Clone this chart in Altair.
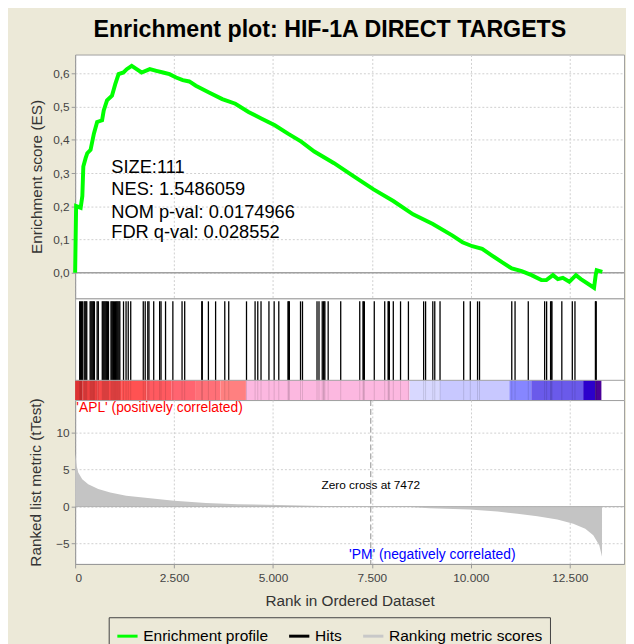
import altair as alt
import pandas as pd

FONT = "Liberation Sans"

# ---------------- data ----------------
es_rank = [0, 25, 140, 182, 207, 265, 307, 390, 474, 556, 681, 723, 806, 931, 1014, 1098,
           1222, 1305, 1430, 1554, 1679, 1887, 2053, 2221, 2385, 2552, 2720, 2884, 3051,
           3383, 3718, 4049, 4381, 4716, 5047, 5379, 5714, 6045, 6544, 7043, 7542, 8041,
           8540, 9039, 9538, 9788, 10037, 10287, 10536, 10786, 11036, 11285, 11535, 11784,
           11909, 12075, 12200, 12325, 12490, 12657, 12782, 13114, 13156, 13181, 13323]
es_value = [0.0, 0.201, 0.196, 0.231, 0.32, 0.345, 0.36, 0.37, 0.419, 0.454, 0.459, 0.489,
            0.519, 0.533, 0.568, 0.598, 0.603, 0.613, 0.623, 0.613, 0.603, 0.613, 0.608,
            0.603, 0.598, 0.588, 0.58, 0.576, 0.563, 0.543, 0.523, 0.509, 0.484, 0.464,
            0.444, 0.419, 0.395, 0.365, 0.33, 0.29, 0.251, 0.216, 0.176, 0.147, 0.112,
            0.092, 0.08, 0.072, 0.052, 0.032, 0.013, 0.005, -0.007, -0.022, -0.022,
            -0.007, -0.019, -0.015, -0.027, -0.007, -0.019, -0.045, -0.007, 0.008, 0.003]

hit_rank = [115, 137, 160, 182, 227, 250, 272, 294, 379, 402, 424, 447, 469, 487, 556, 586,
            686, 709, 731, 753, 776, 798, 821, 843, 906, 928, 951, 973, 996, 1018, 1040,
            1063, 1085, 1108, 1130, 1223, 1287, 1342, 1405, 1722, 1771, 1836, 1866, 1986,
            2136, 2171, 2285, 2470, 2702, 2769, 3201, 3213, 3368, 3550, 3782, 3882, 4331,
            4548, 4616, 4698, 4898, 5030, 5147, 5379, 5397, 5414, 5696, 5746, 6113, 6163,
            6245, 6277, 6290, 6312, 6395, 6712, 7193, 7275, 7290, 7310, 7560, 7824, 7909,
            7924, 7942, 8041, 8224, 8423, 8807, 8857, 9039, 9089, 9222, 9820, 9987, 10170,
            10220, 11035, 11118, 11452, 11866, 11916, 12016, 12031, 12051, 12300, 12565,
            12632, 13149, 13154, 13169]

metric_rank = [0, 40, 79, 180, 331, 584, 886, 1290, 1895, 2500, 3307, 4115, 5123, 5981,
               6637, 7472, 8453, 8958, 9967, 10674, 11178, 11682, 12186, 12590, 12893,
               13095, 13246, 13316]
metric_value = [7.24, 5.47, 4.58, 3.69, 3.02, 2.36, 1.91, 1.47, 1.11, 0.8, 0.49, 0.31, 0.22,
                0.13, 0.04, 0.0, -0.04, -0.22, -0.4, -0.67, -0.98, -1.29, -1.73, -2.31,
                -2.98, -3.87, -5.2, -6.76]

bar_start = [0, 182, 556, 1180, 1804, 2428, 3051, 3675, 4317, 8453, 9213, 10975, 11528, 12840, 13143]
bar_end = [182, 556, 1180, 1804, 2428, 3051, 3675, 4317, 8453, 9213, 10975, 11528, 12840, 13143, 13300]
bar_color = ["#DD3333", "#EE4040", "#F84848", "#FF5252", "#FF5A60", "#FF6470", "#FF7078",
             "#FF8080", "#FCB8E0", "#D8D8FF", "#C8C8FF", "#8686FF", "#6A5AEA", "#2C00CC",
             "#4A0098"]

es_ticks = [0.0, 0.1, 0.2, 0.3, 0.4, 0.5, 0.6]
metric_ticks = [-5, 0, 5, 10]
rank_ticks = [0, 2500, 5000, 7500, 10000, 12500]

stats_lines = ["SIZE:111", "NES: 1.5486059", "NOM p-val: 0.0174966", "FDR q-val: 0.028552"]
stats_es = [0.317, 0.253, 0.184, 0.123]
stats_rank = [914, 914, 914, 914]

zero_cross = 7472
legend_items = ["Enrichment profile", "Hits", "Ranking metric scores"]
legend_colors = ["#00FF00", "#000000", "#C8C8C8"]

X_DOMAIN = [0, 13872]
W = 556

xs = alt.Scale(domain=X_DOMAIN, nice=False, zero=False)
grid_x_axis = alt.Axis(values=rank_ticks, labels=False, ticks=False, domain=False,
                       title=None, grid=True)

# ---------------- ES panel ----------------
es_y = alt.Scale(domain=[-0.077, 0.657], nice=False, zero=False)
X_es = alt.X("rank:Q", scale=xs, axis=grid_x_axis)
Y_es = alt.Y("es:Q", scale=es_y, axis=alt.Axis(
    values=es_ticks, labelExpr="replace(format(datum.value, '.1f'), '.', ',')",
    title="Enrichment score (ES)", grid=True, titlePadding=8))

es_df = pd.DataFrame({"rank": es_rank, "es": es_value,
                      "series": ["Enrichment profile"] * len(es_rank)})
es_line = alt.Chart(es_df).mark_line(strokeWidth=4).encode(
    x=X_es, y=Y_es,
    color=alt.Color("series:N", scale=alt.Scale(domain=legend_items, range=legend_colors),
                    legend=alt.Legend(orient="none", legendX=34, legendY=570,
                                      direction="horizontal", title=None,
                                      symbolType="stroke", symbolSize=420,
                                      symbolStrokeWidth=3, labelFont=FONT,
                                      labelFontSize=15.7, labelColor="black",
                                      strokeColor="#404040", fillColor="#ECE9D8",
                                      padding=7, columnPadding=14, labelOffset=4)))
es_zero = alt.Chart(pd.DataFrame({"rank": [0], "es": [0.0]})).mark_rule(
    color="#A0A0A0", strokeWidth=1.5).encode(y=Y_es)
stats_df = pd.DataFrame({"rank": stats_rank, "es": stats_es, "t": stats_lines})
stats = alt.Chart(stats_df).mark_text(align="left", baseline="middle", fontSize=18.5,
                                      font=FONT, color="black").encode(x=X_es, y=Y_es, text="t:N")
es_panel = alt.layer(es_zero, es_line, stats).properties(width=W, height=247)

# ---------------- hits + colour bar panel ----------------
X_h = alt.X("rank:Q", scale=xs, axis=None)
hits_df = pd.DataFrame({"rank": hit_rank})
hits = alt.Chart(hits_df).mark_rule(color="black", strokeWidth=1.3).encode(
    x=X_h, y=alt.value(3), y2=alt.value(83))
bar_df = pd.DataFrame({"rank": bar_start, "rank_end": bar_end, "c": bar_color})
bar = alt.Chart(bar_df).mark_rect().encode(
    x=X_h, x2="rank_end:Q", y=alt.value(83), y2=alt.value(103),
    color=alt.Color("c:N", scale=None))
stripes = alt.Chart(hits_df).mark_rule(color="black", strokeWidth=1, opacity=0.12).encode(
    x=X_h, y=alt.value(83), y2=alt.value(103))
bar_line = alt.Chart(pd.DataFrame({"rank": [X_DOMAIN[0]], "rank_end": [X_DOMAIN[1]]})).mark_rule(
    color="#A0A0A0").encode(x=X_h, x2="rank_end:Q", y=alt.value(83))
hits_panel = alt.layer(hits, bar, stripes, bar_line).properties(width=W, height=103)

# ---------------- ranked metric panel ----------------
m_y = alt.Scale(domain=[-7.73, 14.36], nice=False, zero=False)
X_m = alt.X("rank:Q", scale=xs, axis=alt.Axis(
    values=rank_ticks, labelExpr="replace(format(datum.value, ','), ',', '.')",
    title="Rank in Ordered Dataset", grid=True, titlePadding=10, labelPadding=5))
Y_m = alt.Y("metric:Q", scale=m_y, axis=alt.Axis(
    values=metric_ticks, title="Ranked list metric (tTest)", grid=True, titlePadding=12))

metric_df = pd.DataFrame({"rank": metric_rank, "metric": metric_value})
area = alt.Chart(metric_df).mark_area(interpolate="linear", color="#C4C4C4").encode(
    x=X_m, y=Y_m, y2=alt.datum(0))
m_zero = alt.Chart(pd.DataFrame({"rank": [0], "metric": [0.0]})).mark_rule(
    color="#B0B0B0").encode(y=Y_m)
zc_df = pd.DataFrame({"rank": [zero_cross], "metric": [2.9],
                      "t": ["Zero cross at " + str(zero_cross)]})
zc_line = alt.Chart(zc_df).mark_rule(color="#8C8C8C", strokeDash=[6, 3]).encode(x=X_m)
zc_text = alt.Chart(zc_df).mark_text(fontSize=12, font=FONT, color="black").encode(
    x=X_m, y=Y_m, text="t:N")
apl = alt.Chart(pd.DataFrame({"rank": [30], "metric": [13.3],
                              "t": ["'APL' (positively correlated)"]})).mark_text(
    align="left", baseline="middle", fontSize=14, font=FONT, color="#FF0000").encode(
    x=X_m, y=Y_m, text="t:N")
pm = alt.Chart(pd.DataFrame({"rank": [9027], "metric": [-6.5],
                             "t": ["'PM' (negatively correlated)"]})).mark_text(
    align="center", baseline="middle", fontSize=14, font=FONT, color="#0000FF").encode(
    x=X_m, y=Y_m, text="t:N")
metric_panel = alt.layer(area, m_zero, zc_line, zc_text, apl, pm).properties(width=W, height=166)

chart = alt.vconcat(es_panel, hits_panel, metric_panel, spacing=0, bounds="flush").properties(
    title=alt.TitleParams("Enrichment plot: HIF-1A DIRECT TARGETS", fontSize=23.5, font=FONT,
                          fontWeight="bold", color="black", anchor="middle", offset=13, dx=3),
    background="#ECE9D8",
    padding={"left": 20, "top": 6, "right": 0, "bottom": -8},
).configure_view(
    fill="white", stroke="#A0A0A0", strokeWidth=1
).configure_axis(
    labelFont=FONT, titleFont=FONT, labelFontSize=12, titleFontSize=15.5,
    labelColor="#444444", titleColor="#333333", titleFontWeight="normal",
    domainColor="#999999", tickColor="#999999", tickSize=4,
    gridColor="#CFCFCF", gridDash=[2, 2]
)

chart.save("out.html", embed_options={"renderer": "svg", "actions": False})
